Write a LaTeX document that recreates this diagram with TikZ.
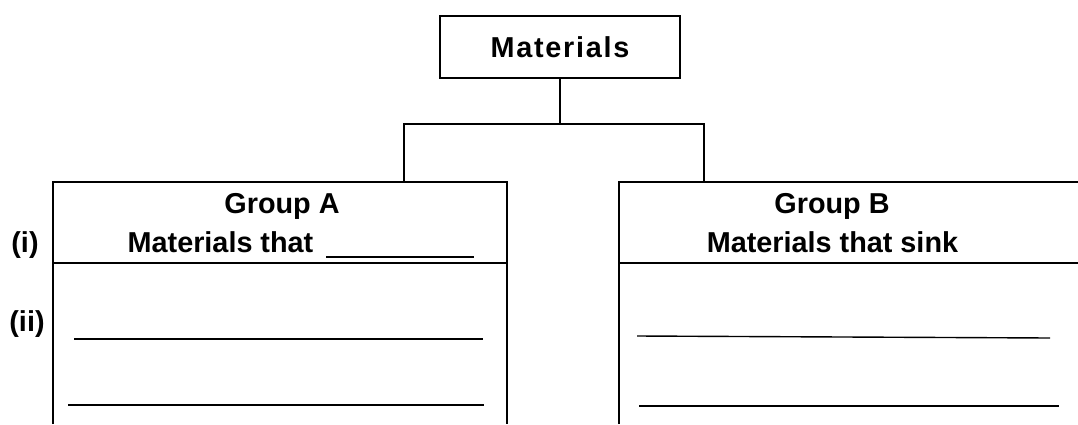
\documentclass[tikz,border=0pt]{standalone}
\usepackage{fontspec}
\setmainfont{Liberation Sans}
\newfontfamily\widefont[LetterSpace=6]{Liberation Sans}
\usetikzlibrary{positioning}

\begin{document}
\begin{tikzpicture}[
  x=0.5pt, y=-0.5pt,
  line width=0.8pt,
  txt/.style = {inner sep=0pt, anchor=base,
                font=\fontsize{14.4}{17}\selectfont\bfseries},
  blk/.style = {draw, minimum width=120pt, minimum height=31pt,
                font=\fontsize{14.4}{17}\selectfont\bfseries},
  ans/.style = {line width=0.7pt}
]
\useasboundingbox (0,0) rectangle (1078,424);

\node[blk] (mat) at (560,47) {\widefont Materials};
\coordinate (topA) at (404,182);
\coordinate (topB) at (704,182);

% group frames (open below)
\draw (53,424) |- (507,182) -- (507,424);
\draw (53,263) -- (507,263);
\draw (619,424) |- (1078,182);
\draw (619,263) -- (1078,263);

\node[txt] (grpA) at (282,213) {Group A};
\node[txt] (thatA) at (220.5,252) {Materials that};
\node[txt] (grpB) at (832,213) {Group B};
\node[txt] (thatB) at (832.5,252) {Materials that sink};
\node[txt] (rowi) at (25,252) {(i)};
\node[txt] (rowii) at (27,331) {(ii)};

\draw (mat.south) -- ++(0,45) coordinate (split);
\draw (topA) |- (split) -| (topB);

% answer lines
\draw[ans] (thatA.base east) ++(12,5) -- ++(148,0);
\draw[ans] (74,339) -- (483,339);
\draw[ans] (68,405) -- (484,405);
\draw[ans] (637,336) -- (1050,338);
\draw[ans] (639,406) -- (1059,406);
\end{tikzpicture}
\end{document}
